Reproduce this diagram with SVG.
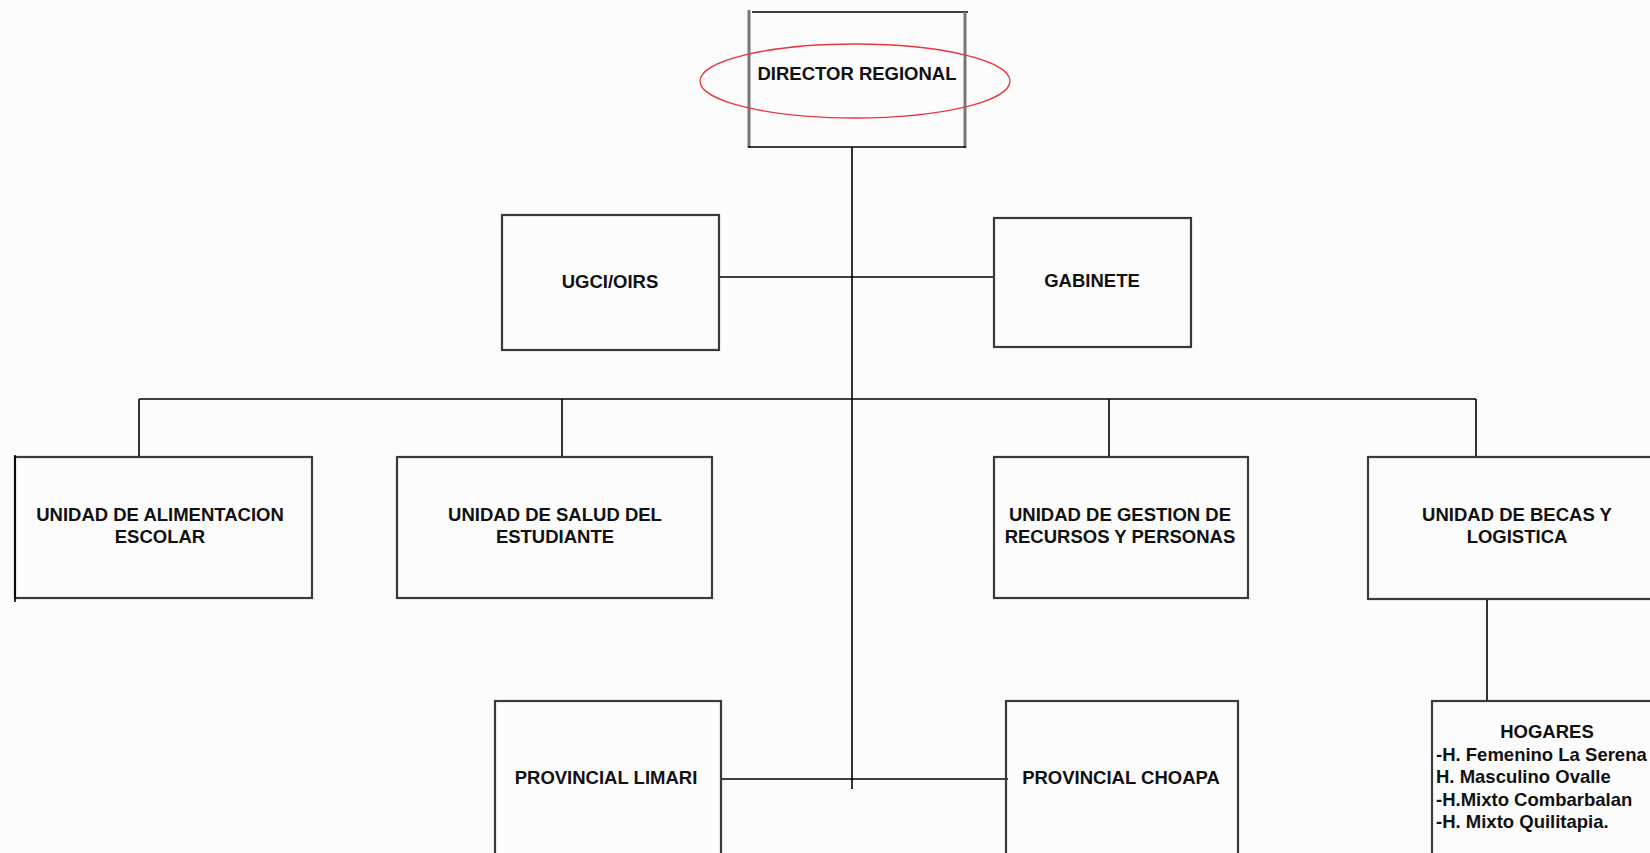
<svg xmlns="http://www.w3.org/2000/svg" width="1650" height="853" viewBox="0 0 1650 853">
<style>
.box{fill:none;stroke:#3a3a3a;stroke-width:2.2}
.edge{fill:none;stroke:#000;stroke-width:1.6}
.t{font-family:"Liberation Sans",Arial,sans-serif;font-weight:bold;font-size:18.5px;fill:#111;text-anchor:middle}
.tl{font-family:"Liberation Sans",Arial,sans-serif;font-weight:bold;font-size:18.5px;fill:#111}
</style>
<rect width="1650" height="853" fill="#fcfcfc"/>
<g id="connectors">
<line class="edge" x1="852" y1="147" x2="852" y2="789"/>
<line class="edge" x1="719" y1="277" x2="994" y2="277"/>
<line class="edge" x1="139" y1="399" x2="1476" y2="399"/>
<line class="edge" x1="139" y1="399" x2="139" y2="457"/>
<line class="edge" x1="562" y1="399" x2="562" y2="457"/>
<line class="edge" x1="1109" y1="399" x2="1109" y2="457"/>
<line class="edge" x1="1476" y1="399" x2="1476" y2="457"/>
<line class="edge" x1="1487" y1="599" x2="1487" y2="701"/>
<line class="edge" x1="721" y1="779" x2="1008" y2="779"/>
</g>
<g id="director">
<line x1="752" y1="12" x2="968" y2="12" stroke="#000" stroke-width="1.6"/>
<line x1="749" y1="10" x2="749" y2="148" stroke="#777" stroke-width="3"/>
<line x1="965" y1="12" x2="965" y2="148" stroke="#777" stroke-width="3"/>
<line x1="748" y1="147" x2="966" y2="147" stroke="#000" stroke-width="1.6"/>
<text class="t" x="857" y="80">DIRECTOR REGIONAL</text>
<ellipse cx="855" cy="81" rx="155" ry="37" fill="none" stroke="#e8383d" stroke-width="1.3"/>
</g>
<g id="ugci">
<rect class="box" x="502" y="215" width="217" height="135"/>
<text class="t" x="610" y="288">UGCI/OIRS</text>
</g>
<g id="gabinete">
<rect class="box" x="994" y="218" width="197" height="129"/>
<text class="t" x="1092" y="287">GABINETE</text>
</g>
<g id="alimentacion">
<rect class="box" x="15" y="457" width="297" height="141"/>
<line x1="15" y1="455" x2="15" y2="602" stroke="#000" stroke-width="1.6"/>
<text class="t" x="160" y="521">UNIDAD DE ALIMENTACION</text>
<text class="t" x="160" y="543">ESCOLAR</text>
</g>
<g id="salud">
<rect class="box" x="397" y="457" width="315" height="141"/>
<text class="t" x="555" y="521">UNIDAD DE SALUD DEL</text>
<text class="t" x="555" y="543">ESTUDIANTE</text>
</g>
<g id="gestion">
<rect class="box" x="994" y="457" width="254" height="141"/>
<text class="t" x="1120" y="521">UNIDAD DE GESTION DE</text>
<text class="t" x="1120" y="543">RECURSOS Y PERSONAS</text>
</g>
<g id="becas">
<rect class="box" x="1368" y="457" width="298" height="142"/>
<text class="t" x="1517" y="521">UNIDAD DE BECAS Y</text>
<text class="t" x="1517" y="543">LOGISTICA</text>
</g>
<g id="limari">
<rect class="box" x="495" y="701" width="226" height="170"/>
<text class="t" x="606" y="784">PROVINCIAL LIMARI</text>
</g>
<g id="choapa">
<rect class="box" x="1006" y="701" width="232" height="170"/>
<text class="t" x="1121" y="784">PROVINCIAL CHOAPA</text>
</g>
<g id="hogares">
<rect class="box" x="1432" y="701" width="232" height="170"/>
<text class="t" x="1547" y="738">HOGARES</text>
<text class="tl" x="1436" y="761">-H. Femenino La Serena</text>
<text class="tl" x="1436" y="783">H. Masculino Ovalle</text>
<text class="tl" x="1436" y="806">-H.Mixto Combarbalan</text>
<text class="tl" x="1436" y="828">-H. Mixto Quilitapia.</text>
</g>
</svg>
